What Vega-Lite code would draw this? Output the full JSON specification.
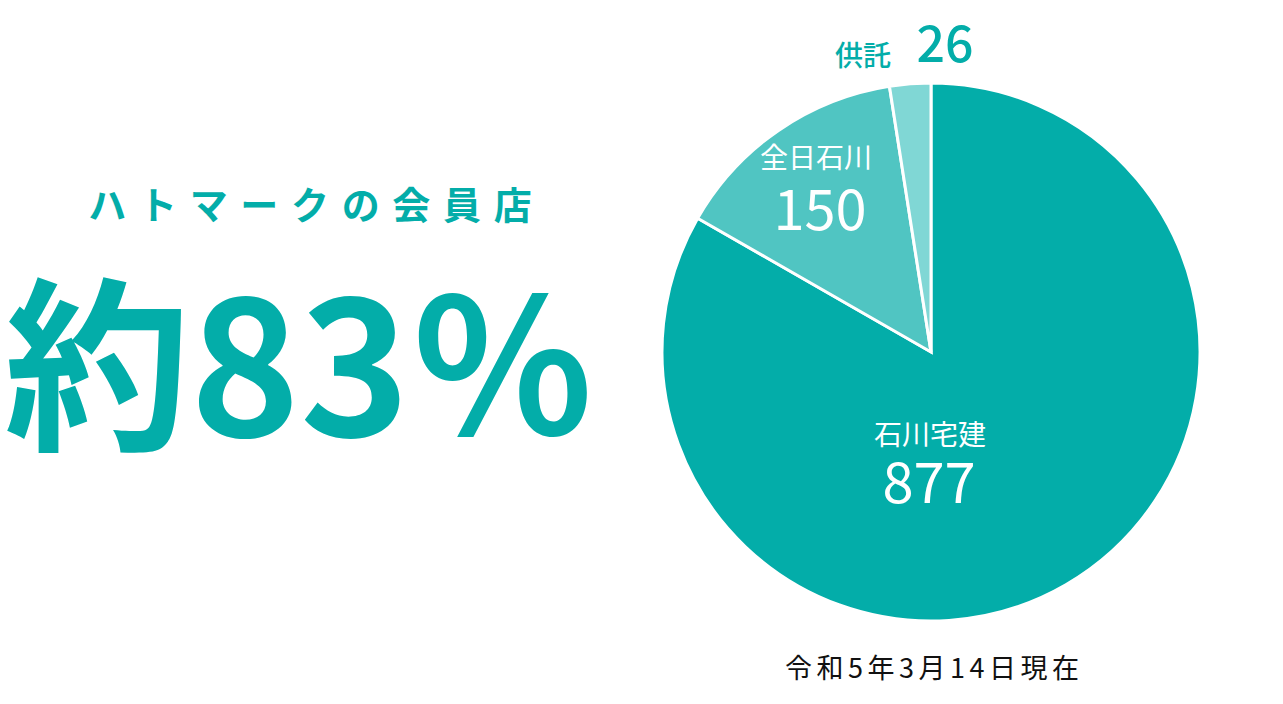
{
  "$schema": "https://vega.github.io/schema/vega-lite/v6.json",
  "padding": 0,
  "spacing": 0,
  "bounds": "flush",
  "background": "white",
  "config": {"view": {"stroke": null}, "font": "Noto Sans CJK JP", "concat": {"spacing": 0}},
  "datasets": {
    "headline": [
      {"role": "lead", "text": "ハ\u2004ト\u2004マ\u2004ー\u2004ク\u2004の\u2004会\u2004員\u2004店"},
      {"role": "share", "text": "約83％"}
    ],
    "members": [
      {"name": "石川宅建", "count": 877},
      {"name": "全日石川", "count": 150},
      {"name": "供託", "count": 26}
    ],
    "note": [{"text": "令\u2006和\u20065\u2006年\u20063\u2006月\u20061\u20064\u2006日\u2006現\u2006在"}]
  },
  "hconcat": [
    {
      "width": 620,
      "height": 704,
      "data": {"name": "headline"},
      "layer": [
        {
          "transform": [{"filter": "datum.role === 'lead'"}],
          "mark": {"type": "text", "fontSize": 38, "fontWeight": "bold", "color": "#03ADA9", "dy": -144, "align": "center", "baseline": "middle"},
          "encoding": {"text": {"field": "text"}}
        },
        {
          "transform": [{"filter": "datum.role === 'share'"}],
          "mark": {"type": "text", "fontSize": 186, "fontWeight": "bold", "color": "#03ADA9", "dy": 28, "dx": -10, "align": "center", "baseline": "middle"},
          "encoding": {"text": {"field": "text"}}
        }
      ]
    },
    {
      "width": 622,
      "height": 704,
      "layer": [
        {
          "data": {"name": "members"},
          "mark": {"type": "arc", "outerRadius": 269, "stroke": "white", "strokeWidth": 3},
          "encoding": {
            "theta": {"field": "count", "type": "quantitative", "stack": true},
            "order": {"field": "count", "sort": "descending"},
            "color": {"field": "name", "type": "nominal", "legend": null,
              "scale": {"domain": ["石川宅建", "全日石川", "供託"], "range": ["#03ADA9", "#50C5C2", "#80D7D5"]}}
          }
        },
        {
          "data": {"name": "members"},
          "transform": [{"filter": "datum.name === '石川宅建'"}],
          "mark": {"type": "text", "fontSize": 28, "color": "white", "dy": 85, "dx": -1, "align": "center", "baseline": "middle"},
          "encoding": {"text": {"field": "name"}}
        },
        {
          "data": {"name": "members"},
          "transform": [{"filter": "datum.name === '石川宅建'"}],
          "mark": {"type": "text", "fontSize": 56, "color": "white", "dy": 134, "dx": -2, "align": "center", "baseline": "middle"},
          "encoding": {"text": {"field": "count", "type": "quantitative"}}
        },
        {
          "data": {"name": "members"},
          "transform": [{"filter": "datum.name === '全日石川'"}],
          "mark": {"type": "text", "fontSize": 28, "color": "white", "dy": -192, "dx": -115, "align": "center", "baseline": "middle"},
          "encoding": {"text": {"field": "name"}}
        },
        {
          "data": {"name": "members"},
          "transform": [{"filter": "datum.name === '全日石川'"}],
          "mark": {"type": "text", "fontSize": 56, "color": "white", "dy": -139, "dx": -111, "align": "center", "baseline": "middle"},
          "encoding": {"text": {"field": "count", "type": "quantitative"}}
        },
        {
          "data": {"name": "members"},
          "transform": [{"filter": "datum.name === '供託'"}],
          "mark": {"type": "text", "fontSize": 28, "fontWeight": 500, "color": "#03ADA9", "dy": -294, "dx": -68, "align": "center", "baseline": "middle"},
          "encoding": {"text": {"field": "name"}}
        },
        {
          "data": {"name": "members"},
          "transform": [{"filter": "datum.name === '供託'"}],
          "mark": {"type": "text", "fontSize": 50, "fontWeight": 500, "color": "#03ADA9", "dy": -305, "dx": 14, "align": "center", "baseline": "middle"},
          "encoding": {"text": {"field": "count", "type": "quantitative"}}
        },
        {
          "data": {"name": "note"},
          "mark": {"type": "text", "fontSize": 27, "color": "#111111", "dy": 318, "dx": 1, "align": "center", "baseline": "middle"},
          "encoding": {"text": {"field": "text"}}
        }
      ]
    }
  ]
}
